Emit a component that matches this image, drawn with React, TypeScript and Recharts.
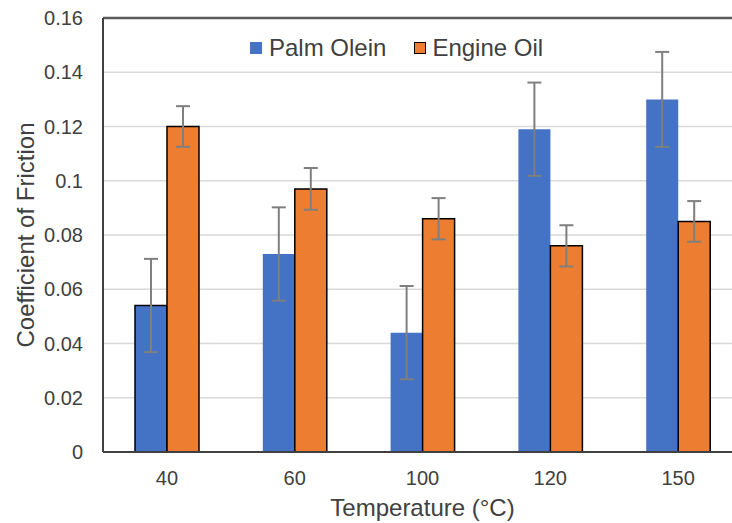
import {
  Bar,
  BarChart,
  CartesianGrid,
  Cell,
  ErrorBar,
  ReferenceLine,
  XAxis,
  YAxis,
} from 'recharts';

const temperatures = ['40', '60', '100', '120', '150'];
const palmOlein = [0.054, 0.073, 0.044, 0.119, 0.13];
const palmOleinErr = [0.0172, 0.0172, 0.0172, 0.0172, 0.0175];
const engineOil = [0.12, 0.097, 0.086, 0.076, 0.085];
const engineOilErr = [0.0075, 0.0077, 0.0076, 0.0076, 0.0075];
const yTicks = [0, 0.02, 0.04, 0.06, 0.08, 0.1, 0.12, 0.14, 0.16];

const BLUE = '#4472C4';
const ORANGE = '#ED7D31';
const TEXT = '#404040';
const FONT = '"Liberation Sans", Arial, sans-serif';

const chartData = temperatures.map((t, i) => ({
  temp: t,
  palm: palmOlein[i],
  palmErr: palmOleinErr[i],
  oil: engineOil[i],
  oilErr: engineOilErr[i],
}));

function LegendOverlay() {
  const item: React.CSSProperties = { display: 'flex', alignItems: 'center', marginRight: 28 };
  return (
    <div
      style={{
        position: 'absolute',
        left: 250,
        top: 34,
        display: 'flex',
        fontFamily: FONT,
        fontSize: 24,
        color: TEXT,
        lineHeight: '28px',
      }}
    >
      <div style={item}>
        <span style={{ width: 12, height: 12, background: BLUE, marginRight: 7 }} />
        <span>Palm Olein</span>
      </div>
      <div style={item}>
        <span
          style={{
            width: 10,
            height: 10,
            background: ORANGE,
            border: '1.5px solid #000',
            marginRight: 6,
          }}
        />
        <span>Engine Oil</span>
      </div>
    </div>
  );
}

export default function App() {
  return (
    <div
      style={{
        position: 'absolute',
        left: 0,
        top: 0,
        width: 732,
        height: 523,
        overflow: 'hidden',
        background: '#fff',
      }}
    >
      <BarChart
        width={742}
        height={523}
        data={chartData}
        margin={{ top: 18, right: 0, bottom: 0, left: 0 }}
        barSize={32}
        barGap={0}
        style={{ fontFamily: FONT }}
      >
        <CartesianGrid vertical={false} stroke="#d9d9d9" strokeWidth={1.5} />
        <ReferenceLine y={0.16} stroke="#595959" strokeWidth={2.5} />
        <XAxis
          dataKey="temp"
          height={71}
          axisLine={{ stroke: TEXT, strokeWidth: 2 }}
          tickLine={false}
          tickMargin={13}
          tick={{ fontSize: 20, fill: TEXT }}
          label={{
            value: 'Temperature (°C)',
            position: 'insideBottom',
            offset: 7,
            fontSize: 24,
            fill: TEXT,
          }}
        />
        <YAxis
          width={103}
          domain={[0, 0.16]}
          ticks={yTicks}
          interval={0}
          axisLine={{ stroke: TEXT, strokeWidth: 2 }}
          tickLine={false}
          tickMargin={14}
          tick={{ fontSize: 20, fill: TEXT }}
          tickFormatter={(v: number) => String(v)}
          label={{
            value: 'Coefficient of Friction',
            angle: -90,
            position: 'insideLeft',
            offset: 25,
            fontSize: 24,
            fill: TEXT,
            style: { textAnchor: 'middle' },
          }}
        />
        <Bar dataKey="palm" fill={BLUE} isAnimationActive={false}>
          {chartData.map((_, i) => (
            <Cell key={i} stroke={i === 0 ? '#000' : 'none'} strokeWidth={i === 0 ? 1.5 : 0} />
          ))}
          <ErrorBar dataKey="palmErr" width={7} strokeWidth={2} stroke="#7f7f7f" />
        </Bar>
        <Bar dataKey="oil" fill={ORANGE} stroke="#000" strokeWidth={1.5} isAnimationActive={false}>
          <ErrorBar dataKey="oilErr" width={7} strokeWidth={2} stroke="#7f7f7f" />
        </Bar>
      </BarChart>
      <LegendOverlay />
    </div>
  );
}
